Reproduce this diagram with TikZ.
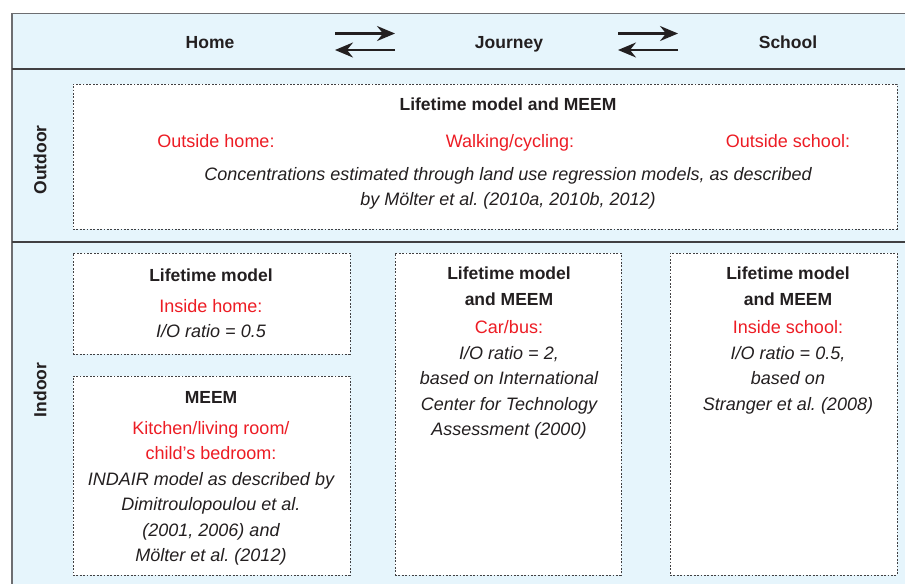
\documentclass[tikz,border=0pt]{standalone}
\usepackage{fontspec}
\setmainfont{Liberation Sans}
\usepackage{tikz}
\usetikzlibrary{positioning,arrows.meta}
\definecolor{panel}{HTML}{E6F5FC}
\definecolor{ink}{HTML}{231F20}
\definecolor{placered}{HTML}{ED1C24}
\definecolor{rule}{HTML}{6D6E71}
\definecolor{darkrule}{HTML}{414042}
\definecolor{boxline}{HTML}{414042}
\frenchspacing

\begin{document}
\begin{tikzpicture}[x=1pt,y=1pt,
	dotbox/.style={draw=boxline,fill=white,line width=1pt,dash pattern=on 1.8pt off 1.6pt,inner sep=0pt},
	txt/.style={font=\fontsize{18}{25.5}\selectfont,text=ink,align=center,inner sep=0pt},
	head/.style={txt,font=\fontsize{17.5}{25.5}\selectfont\bfseries},
	place/.style={txt,text=placered},
	note/.style={txt,font=\fontsize{18}{25.5}\selectfont\itshape},
	twoway/.style={draw=ink,line width=2.2pt,-{Stealth[length=18pt,width=15pt,inset=6pt]}}]
	\useasboundingbox (0,0) rectangle (905,-584);
	\fill[panel] (12,-13) rectangle (905,-584);
	\draw[rule,line width=1pt] (12,-13) -- (905,-13);
	\draw[rule,line width=1.5pt] (12,-13) -- (12,-584);
	\draw[darkrule,line width=1.3pt] (12,-69) -- (905,-69);
	\draw[darkrule,line width=1.3pt] (12,-242) -- (905,-242);
	\node[head,anchor=base] (home) at (210,-48) {Home};
	\node[head,anchor=base] (journey) at (509,-48) {Journey};
	\node[head,anchor=base] (school) at (788,-48) {School};
	\coordinate (hjright1) at (335,-33.5);
	\coordinate (hjright2) at (395,-33.5);
	\coordinate (hjleft1) at (395,-50);
	\coordinate (hjleft2) at (335,-50);
	\coordinate (jsright1) at (618,-33.5);
	\coordinate (jsright2) at (678,-33.5);
	\coordinate (jsleft1) at (678,-50);
	\coordinate (jsleft2) at (618,-50);
	\draw[twoway] (hjright1) -- (hjright2);
	\draw[twoway] (hjleft1) -- (hjleft2);
	\draw[twoway] (jsright1) -- (jsright2);
	\draw[twoway] (jsleft1) -- (jsleft2);
	\node[head,rotate=90] (outdoor) at (40,-160) {Outdoor};
	\node[head,rotate=90] (indoor) at (40,-390) {Indoor};
	\node[dotbox,minimum width=824pt,minimum height=145pt] (outbox) at (485,-156.5) {};
	\node[dotbox,minimum width=277pt,minimum height=101pt] (homebox) at (211.5,-303.5) {};
	\node[dotbox,minimum width=277pt,minimum height=199pt] (meembox) at (211.5,-475.5) {};
	\node[dotbox,minimum width=226pt,minimum height=322pt] (carbox) at (508,-414) {};
	\node[dotbox,minimum width=227pt,minimum height=322pt] (schoolbox) at (783.5,-414) {};
	\node[head,anchor=base] (outtitle) at (508,-110) {Lifetime model and MEEM};
	\node[place,anchor=base] (outhome) at (216,-147) {Outside home:};
	\node[place,anchor=base] (outwalk) at (510,-147) {Walking/cycling:};
	\node[place,anchor=base] (outschool) at (788,-147) {Outside school:};
	\node[note,anchor=north] (outnote) at (508,-167.1) {Concentrations estimated through land use regression models, as described\\by Mölter et al. (2010a, 2010b, 2012)};
	\node[head,anchor=base] (hometitle) at (211,-281) {Lifetime model};
	\node[place,anchor=base] (homeplace) at (211,-312) {Inside home:};
	\node[note,anchor=base] (homenote) at (211,-337) {I/O ratio = 0.5};
	\node[head,anchor=base] (meemtitle) at (211,-403) {MEEM};
	\node[place,anchor=north] (meemplace) at (211,-421.1) {Kitchen/living room/\\child’s bedroom:};
	\node[note,anchor=north] (meemnote) at (211,-472.1) {INDAIR model as described by\\Dimitroulopoulou et al.\\(2001, 2006) and\\Mölter et al. (2012)};
	\node[head,anchor=north] (cartitle) at (509,-266.7) {Lifetime model\\and MEEM};
	\node[place,anchor=base] (carplace) at (509,-333) {Car/bus:};
	\node[note,anchor=north] (carnote) at (509,-346.1) {I/O ratio = 2,\\based on International\\Center for Technology\\Assessment (2000)};
	\node[head,anchor=north] (schooltitle) at (788,-266.7) {Lifetime model\\and MEEM};
	\node[place,anchor=base] (schoolplace) at (788,-333) {Inside school:};
	\node[note,anchor=north] (schoolnote) at (788,-346.1) {I/O ratio = 0.5,\\based on\\Stranger et al. (2008)};
\end{tikzpicture}
\end{document}
